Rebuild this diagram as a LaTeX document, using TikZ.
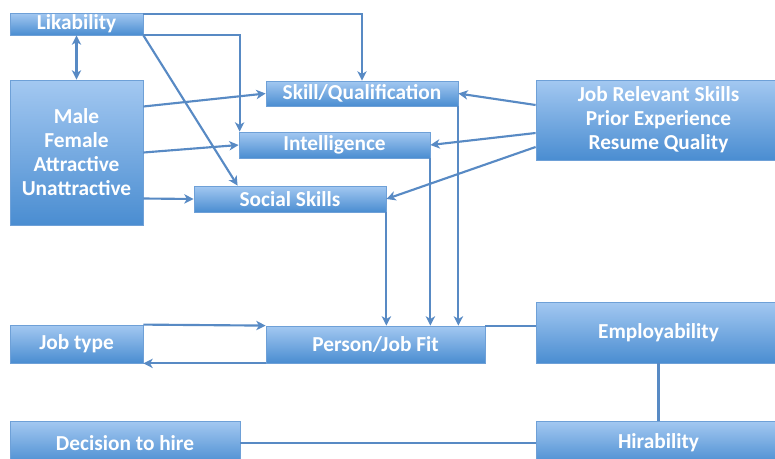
\documentclass[tikz,border=0pt]{standalone}
\usepackage{fontspec}
\setmainfont{Carlito}
\usepackage{tikz}
\usetikzlibrary{arrows.meta,calc}

\definecolor{boxtop}{RGB}{163,200,241}
\definecolor{boxbot}{RGB}{74,141,209}
\definecolor{boxline}{RGB}{110,160,215}
\definecolor{wire}{RGB}{88,138,196}

\tikzset{
  factor/.style={rectangle, draw=boxline, line width=0.6pt, top color=boxtop, bottom color=boxbot,
    text=white, font=\fontsize{16}{18}\selectfont\bfseries, align=center, inner sep=0pt},
  link/.style={draw=wire, line width=1.6pt, -{Stealth[length=7pt,width=7pt,inset=2pt]}},
  tie/.style={draw=wire, line width=1.6pt}
}

\begin{document}
\begin{tikzpicture}[x=0.75pt, y=-0.75pt]
  \useasboundingbox (0,0) rectangle (775,458);
  % boxes
  \node[factor, minimum width=133*0.75pt, minimum height=22*0.75pt] (like) at (76.5,24) {Likability};
  \node[factor, minimum width=133*0.75pt, minimum height=145*0.75pt] (demo) at (76.5,152.5)
    {Male\\ Female\\ Attractive\\ Unattractive};
  \node[factor, minimum width=192*0.75pt, minimum height=25*0.75pt] (skill) at (362,93.5) {Skill/Qualification};
  \node[factor, minimum width=191*0.75pt, minimum height=26*0.75pt] (intel) at (334.5,145) {Intelligence};
  \node[factor, minimum width=192*0.75pt, minimum height=26*0.75pt] (social) at (290,199) {Social Skills};
  \node[factor, minimum width=245*0.75pt, minimum height=80*0.75pt] (jobrel) at (658.5,120)
    {Job Relevant Skills\\ Prior Experience\\ Resume Quality};
  \node[factor, minimum width=133*0.75pt, minimum height=38*0.75pt] (jobtype) at (76.5,344) {Job type};
  \node[factor, minimum width=219*0.75pt, minimum height=37*0.75pt] (fit) at (375.5,344.5) {Person/Job Fit};
  \node[factor, minimum width=245*0.75pt, minimum height=61*0.75pt] (employ) at (658.5,332.5) {Employability};
  \node[factor, minimum width=230*0.75pt, minimum height=44*0.75pt] (decide) at (125,443) {Decision to hire};
  \node[factor, minimum width=245*0.75pt, minimum height=44*0.75pt] (hire) at (658.5,443) {Hirability};

  % likability links
  \draw[link, {Stealth[length=7pt,width=7pt,inset=2pt]}-{Stealth[length=7pt,width=7pt,inset=2pt]}] (like.south) -- (demo.north);
  \draw[link] ($(like.north east)+(0,1)$) -| (skill.north);
  \draw[link] (like.south east) -| ($(intel.north west)+(1,0)$);
  \draw[link] (like.south east) -- ($(social.north west)+(44,0)$);

  % demographic links
  \draw[link] ($(demo.east)+(0,-46)$) -- (skill.west);
  \draw[link] (demo.east) -- (intel.west);
  \draw[link] ($(demo.east)+(0,46)$) -- (social.west);

  % job relevant links
  \draw[link] ($(jobrel.west)+(0,-15)$) -- (skill.east);
  \draw[link] ($(jobrel.west)+(0,13)$) -- (intel.east);
  \draw[link] ($(jobrel.west)+(0,27)$) -- (social.east);

  % into person/job fit
  \draw[link] (social.south east) -- (social.south east |- fit.north);
  \draw[link] (intel.south east) -- (intel.south east |- fit.north);
  \draw[link] (skill.south east) -- (skill.south east |- fit.north);
  \draw[link] (jobtype.north east) -- (fit.north west);
  \draw[link] (fit.south west) -- (jobtype.south east);

  % outcomes
  \draw[tie] (fit.north east) -- (fit.north east -| employ.west);
  \draw[tie] (employ.south) -- (hire.north);
  \draw[tie] (decide.east) -- (hire.west);
\end{tikzpicture}
\end{document}
